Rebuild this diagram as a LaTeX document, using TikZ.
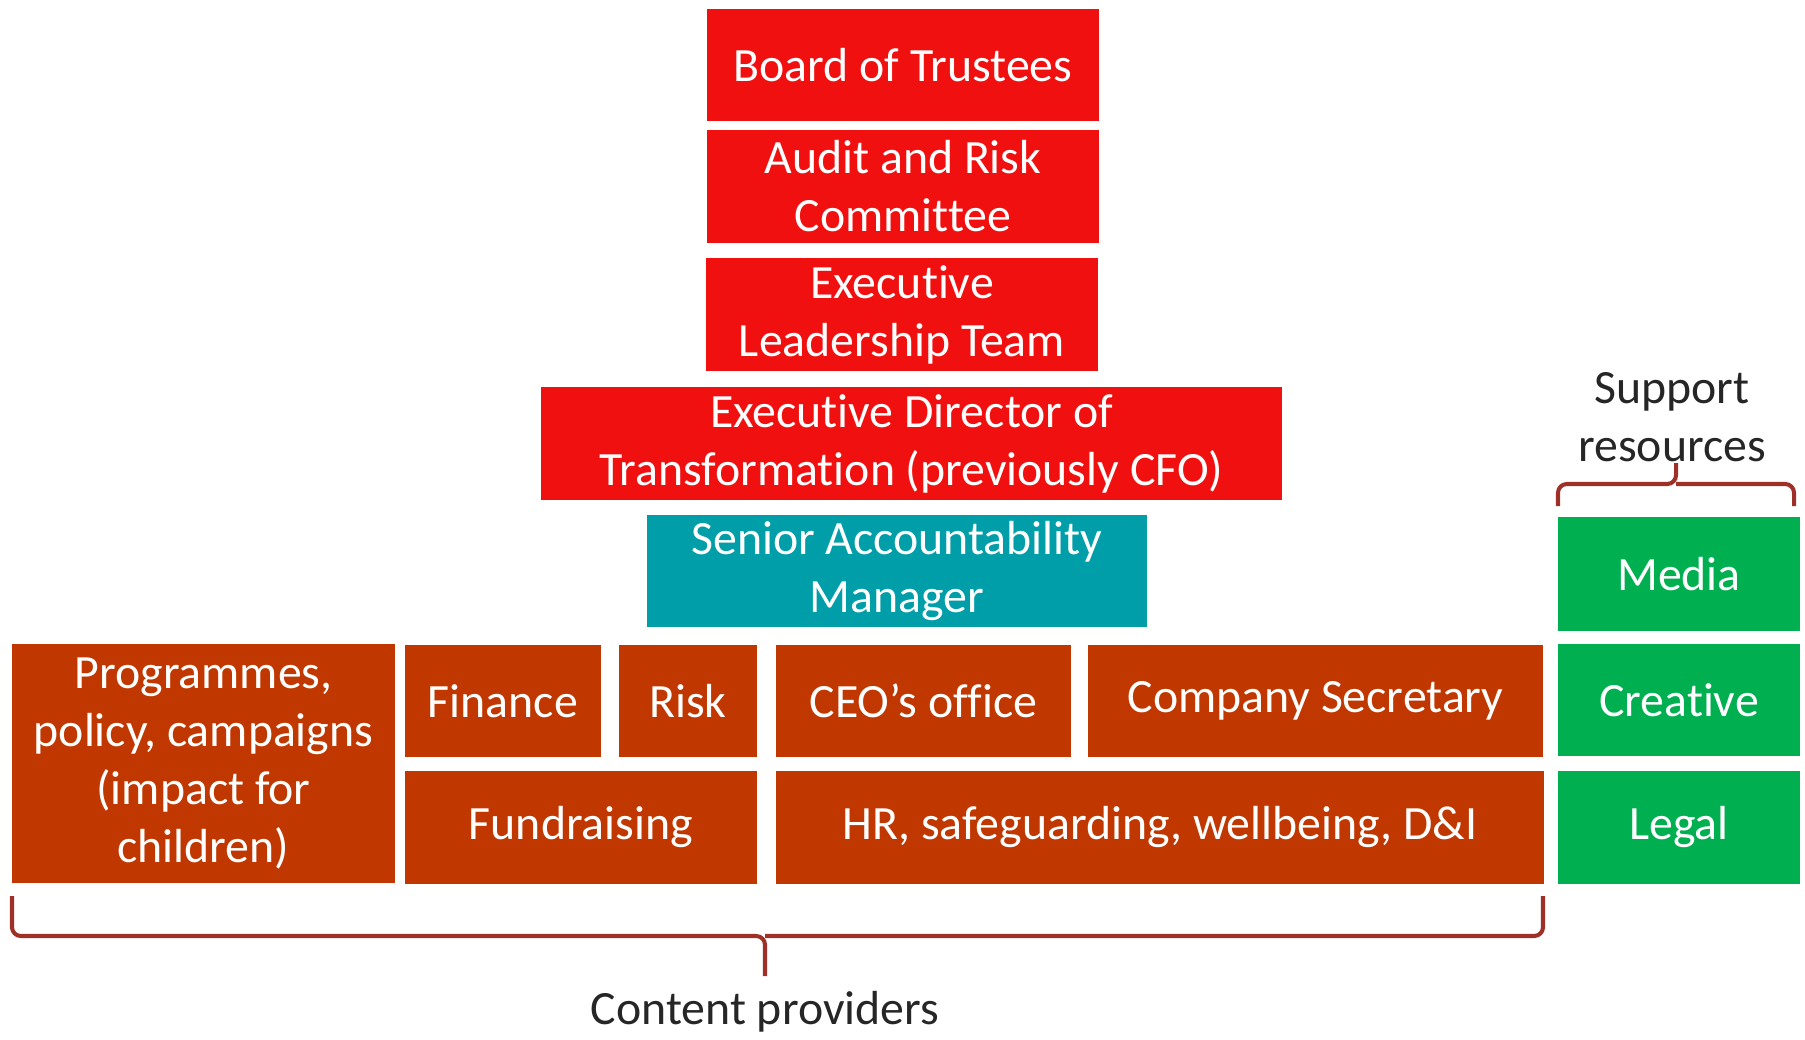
\documentclass[tikz,border=0pt]{standalone}
\usepackage{fontspec}
\setmainfont{Carlito}[Ligatures=NoCommon]
\usetikzlibrary{positioning}

\definecolor{boardred}{RGB}{240,16,16}
\definecolor{samteal}{RGB}{0,158,168}
\definecolor{unitbrown}{RGB}{192,56,0}
\definecolor{supgreen}{RGB}{0,176,80}
\definecolor{bracered}{RGB}{158,48,40}
\definecolor{labelgray}{RGB}{38,38,38}

\tikzset{
  box/.style={rectangle, inner sep=0pt, text=white, align=center,
    font=\fontsize{27.2}{33}\selectfont},
  wh/.style 2 args={minimum width=#1*0.02cm, minimum height=#2*0.02cm},
  govbox/.style={box, fill=boardred},
  sambox/.style={box, fill=samteal},
  unitbox/.style={box, fill=unitbrown},
  supbox/.style={box, fill=supgreen},
  bracket/.style={draw=bracered, line width=2.3pt, rounded corners=5pt},
  grouplabel/.style={text=labelgray, align=center,
    font=\fontsize{27.2}{33}\selectfont}
}

\begin{document}
\begin{tikzpicture}[x=0.02cm,y=-0.02cm]
\useasboundingbox (0,0) rectangle (1805,1040);

%% Governance stack
\node[govbox, wh={392}{112}] (board) at (903,65) {Board of Trustees};
\node[govbox, wh={392}{113}] (audit) at (903,186.5) {Audit and Risk\\Committee};
\node[govbox, wh={392}{113}] (elt) at (902,314.5) {Executive\\Leadership Team};
\node[govbox, wh={741}{113}] (edt) at (911.5,443.5) {Executive Director of\\Transformation (previously CFO)};
\node[sambox, wh={500}{112}] (sam) at (897,571) {Senior Accountability\\Manager};

%% Content providers
\node[unitbox, wh={383}{239}] (prog) at (203.5,763.5) {Programmes,\\policy, campaigns\\(impact for\\children)};
\node[unitbox, wh={196}{112}] (fin) at (503,701) {Finance};
\node[unitbox, wh={138}{112}] (risk) at (688,701) {Risk};
\node[unitbox, wh={295}{112}] (ceo) at (923.5,701) {CEO’s office};
\node[unitbox, wh={455}{112}] (cosec) at (1315.5,701) {Company Secretary};
\node[unitbox, wh={352}{113}] (fund) at (581,827.5) {Fundraising};
\node[unitbox, wh={768}{113}] (hr) at (1160,827.5) {HR, safeguarding, wellbeing, D\&I};

%% Support resources
\node[supbox, wh={242}{114}] (media) at (1679,574) {Media};
\node[supbox, wh={242}{112}] (creative) at (1679,700) {Creative};
\node[supbox, wh={242}{113}] (legal) at (1679,827.5) {Legal};

%% Braces and labels
\draw[bracket] (12,896) |- (765,936) -- (765,976);
\draw[bracket] (1543,896) |- (765,936);
\node[grouplabel] (content) at (765,1012) {Content providers};

\draw[bracket] (1558,506) |- (1676,484) -- (1676,463);
\draw[bracket] (1794,506) |- (1676,484);
\node[grouplabel] (support) at (1672,417) {Support\\resources};

\end{tikzpicture}
\end{document}
